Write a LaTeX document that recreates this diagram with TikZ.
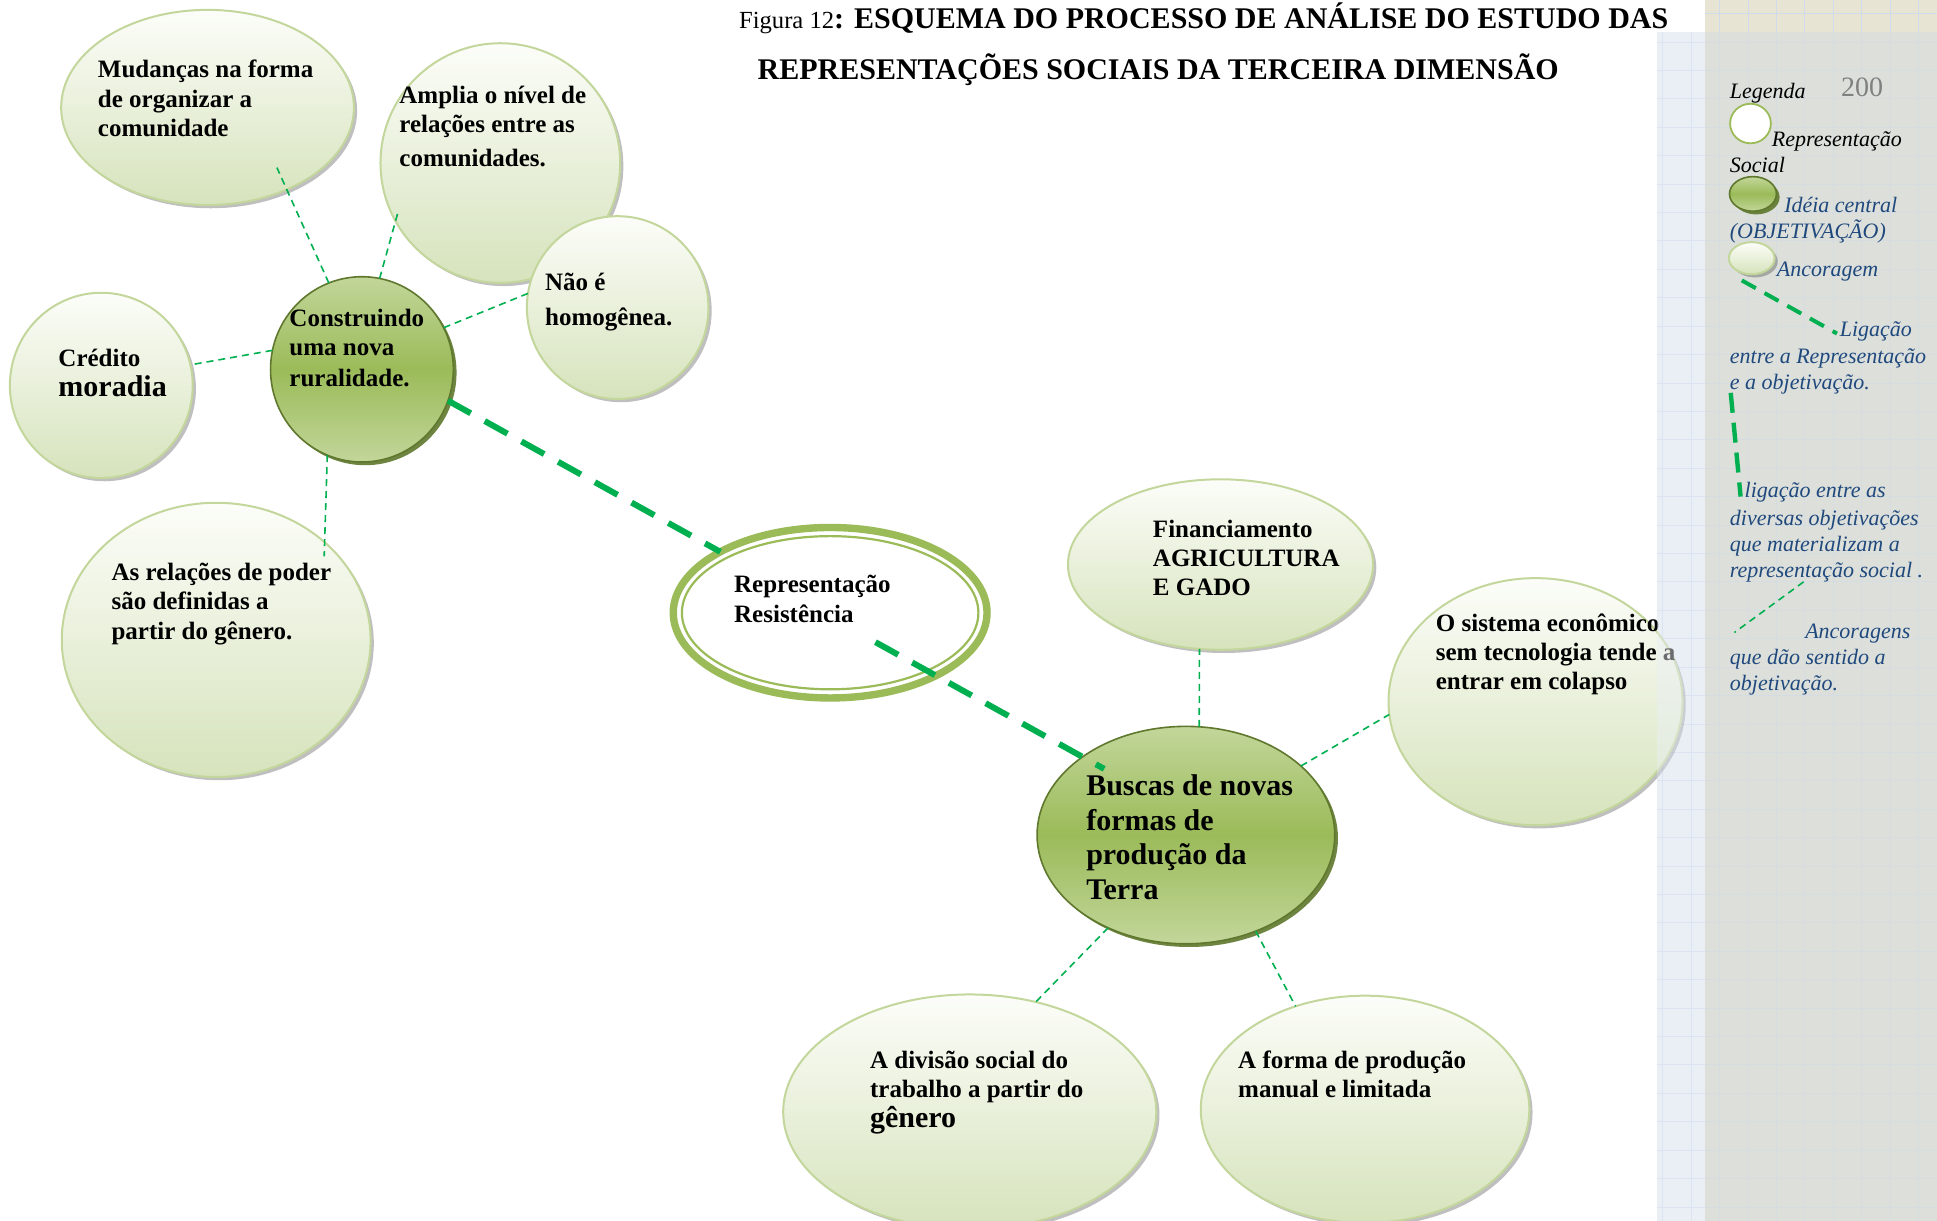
\documentclass[tikz,border=0pt]{standalone}
\usepackage{fontspec}
\setmainfont{Liberation Serif}
\usetikzlibrary{shapes.geometric,shadows,calc}
\newdimen\pxu \pxu=0.6177pt
\newcommand{\mylines}[1]{\begin{tabular}[t]{@{}l@{}}#1\end{tabular}}
\definecolor{ancB}{RGB}{195,214,155}
\definecolor{ancT}{RGB}{252,253,249}
\definecolor{ancBot}{RGB}{214,227,188}
\definecolor{objL}{RGB}{194,214,154}
\definecolor{objM}{RGB}{155,187,89}
\definecolor{objD}{RGB}{95,120,45}
\definecolor{lineG}{RGB}{0,176,80}
\definecolor{legB}{RGB}{31,73,125}
\definecolor{panBlue}{RGB}{234,239,246}
\definecolor{panGray}{RGB}{221,223,218}
\definecolor{panBeige}{RGB}{231,228,212}
\definecolor{gridB}{RGB}{208,220,236}
\tikzset{
  anc/.style={ellipse, draw=ancB, line width=1pt, top color=ancT, bottom color=ancBot,
    inner sep=0pt, outer sep=0pt,
    drop shadow={shadow xshift=1.6pt, shadow yshift=-1.6pt, fill=black, opacity=0.25}},
  obj/.style={ellipse, draw=objD, line width=0.8pt, top color=objL, bottom color=objL, middle color=objM,
    inner sep=0pt, outer sep=0pt,
    drop shadow={shadow xshift=1.6pt, shadow yshift=-1.6pt, fill=objD, opacity=0.9}},
  txt/.style={anchor=base west, inner sep=0pt, font=\bfseries\fontsize{12.5}{14.6}\selectfont},
  leg/.style={anchor=base west, inner sep=0pt, font=\itshape\fontsize{11}{13.1}\selectfont, text=legB},
  conn/.style={draw=lineG, line width=0.8pt, dash pattern=on 3.5pt off 2.5pt},
  mainlink/.style={draw=lineG, line width=3pt, dash pattern=on 13pt off 8pt},
  leglink/.style={draw=lineG, line width=2pt, dash pattern=on 8pt off 5pt},
}
\begin{document}
\begin{tikzpicture}[x=0.6177pt, y=-0.6177pt]
\useasboundingbox (0,0) rectangle (1568,988);
\fill[white] (0,0) rectangle (1568,988);
% right panel
\fill[panBlue] (1341,26) rectangle (1380,988);
\fill[panGray] (1380,26) rectangle (1568,988);
\fill[panBeige] (1380,0) rectangle (1568,26);
\foreach \gx in {1346,1369,...,1568} \draw[gridB, line width=0.4pt] (\gx,26) -- (\gx,988);
\foreach \gx in {1392,1415,...,1568} \draw[gridB, line width=0.4pt] (\gx,0) -- (\gx,26);
\foreach \gy in {34,57,...,988} \draw[gridB, line width=0.4pt] (1341,\gy) -- (1568,\gy);
\draw[gridB, line width=0.4pt] (1380,11) -- (1568,11);

% title
\node[anchor=base west, inner sep=0pt] (title1) at (598,23)
  {{\fontsize{12.3}{14}\selectfont Figura 12}{\bfseries\fontsize{15}{17}\selectfont : ESQUEMA DO PROCESSO DE ANÁLISE DO ESTUDO DAS}};
\node[anchor=base west, inner sep=0pt, font=\bfseries\fontsize{15}{17}\selectfont] (title2) at (613,64)
  {REPRESENTAÇÕES SOCIAIS DA TERCEIRA DIMENSÃO};

% ellipses
\node[anc, minimum width=237\pxu, minimum height=158\pxu] (mud) at (168,87) {};
\node[anc, minimum width=194\pxu, minimum height=194\pxu] (amp) at (405,132) {};
\node[anc, minimum width=147\pxu, minimum height=148\pxu] (nao) at (500,249) {};
\node[anc, minimum width=148\pxu, minimum height=150\pxu] (cred) at (82,312) {};
\node[anc, minimum width=250\pxu, minimum height=222\pxu] (rel) at (175,518) {};
\node[obj, minimum width=148\pxu, minimum height=150\pxu] (cons) at (293,299) {};
\node[ellipse, draw=objM, line width=3.7pt, fill=white, inner sep=0pt, outer sep=0pt,
  minimum width=254\pxu, minimum height=138\pxu] (rep) at (672,496) {};
\draw[objM, line width=1.1pt] (rep.center) ellipse [x radius=120\pxu, y radius=62\pxu];
\node[anc, minimum width=247\pxu, minimum height=138\pxu] (fin) at (988,457) {};
\node[anc, minimum width=238\pxu, minimum height=200\pxu] (sis) at (1243,568) {};
\node[obj, minimum width=241\pxu, minimum height=176\pxu] (bus) at (960,676) {};
\node[anc, minimum width=302\pxu, minimum height=190\pxu] (div) at (785,900) {};
\node[anc, minimum width=266\pxu, minimum height=184\pxu] (forma) at (1105,898) {};

% texts
\node[txt] (tmud) at (79,63) {\mylines{Mudanças na forma\\de organizar a\\comunidade}};
\node[txt] (tamp) at (323,84) {\mylines{Amplia o nível de\\relações entre as\\[2pt]comunidades.}};
\node[txt] (tnao) at (441,235) {\mylines{Não é\\[3pt]homogênea.}};
\node[txt] (tcred) at (47,297) {\mylines{Crédito\\[0pt]{\fontsize{15}{17}\selectfont moradia}}};
\node[txt] (tcons) at (234,264) {\mylines{Construindo\\uma nova\\[1pt]ruralidade.}};
\node[txt] (trel) at (90,470) {\mylines{As relações de poder\\são definidas a\\partir do gênero.}};
\node[txt] (trep) at (594,480) {\mylines{Representação\\Resistência}};
\node[txt] (tfin) at (933,435) {\mylines{Financiamento\\AGRICULTURA\\E GADO}};
\node[txt] (tsis) at (1162,511) {\mylines{O sistema econômico\\sem tecnologia tende a\\entrar em colapso}};
\node[txt, font=\bfseries\fontsize{15}{17.3}\selectfont] (tbus) at (879,644) {\mylines{Buscas de novas\\formas de\\produção da\\Terra}};
\node[txt] (tdiv) at (704,865) {\mylines{A divisão social do\\trabalho a partir do\\[0pt]{\fontsize{15}{17}\selectfont gênero}}};
\node[txt] (tforma) at (1002,865) {\mylines{A forma de produção\\manual e limitada}};

% connectors
\draw[conn, shorten >=-12pt] (cons.111) -- (mud.314);
\draw[conn, shorten >=-4pt] (cons.79.5) -- (amp.209);
\draw[conn] (cons.27.5) -- (nao.171);
\draw[conn] (cons.168) -- (cred.13);
\draw[conn, shorten >=-7pt] (cons.248) -- (rel.42.7);
\draw[mainlink] (cons.340) -- (rep.151.8);
\draw[mainlink] ($(rep.center)!0.45!(rep.-33)$) -- ($(bus.center)!0.82!(bus.141)$);
\draw[conn] (bus.83.5) -- (fin.256);
\draw[conn] (bus.31) -- (sis.185);
\draw[conn] (bus.230) -- (div.59);
\draw[conn] (bus.306.7) -- (forma.124);

% translucent panel over overlapping ellipse
\fill[panBlue, fill opacity=0.45] (1341,26) rectangle (1380,988);
\fill[panGray, fill opacity=0.45] (1380,26) rectangle (1568,988);

% legend
\node[leg, text=black] (lgtitle) at (1400,80) {Legenda};
\node[anchor=base west, inner sep=0pt, text=black!50, font=\fontsize{14}{16}\selectfont] (pg) at (1490,78) {200};
\node[ellipse, draw=objM, line width=0.9pt, fill=white, inner sep=0pt, outer sep=0pt,
  minimum width=33\pxu, minimum height=32\pxu] (lrs) at (1417,100) {};
\node[leg, text=black] (trs1) at (1434,119) {Representação};
\node[leg, text=black] (trs2) at (1400,140) {Social};
\node[obj, minimum width=38\pxu, minimum height=28\pxu] (lobj) at (1419,157) {};
\node[leg] (tobj1) at (1444,172) {Idéia central};
\node[leg] (tobj2) at (1400,193) {(OBJETIVAÇÃO)};
\node[anc, minimum width=37\pxu, minimum height=26\pxu] (lanc) at (1418,209) {};
\node[leg] (tanc) at (1438,224) {Ancoragem};
\coordinate (l1a) at (1410,227);
\coordinate (l1b) at (1487,270);
\draw[leglink] (l1a) -- (l1b);
\node[leg] (tl1) at (1489,272) {Ligação};
\node[leg] (tl2) at (1400,294) {\mylines{entre a Representação\\e a objetivação.}};
\coordinate (l2a) at (1401,318);
\coordinate (l2b) at (1409,402);
\draw[leglink, line width=2.2pt, dash pattern=on 10pt off 5pt] (l2a) -- (l2b);
\node[leg] (tl3) at (1412,403) {ligação entre as};
\node[leg] (tl4) at (1400,425) {\mylines{diversas objetivações\\que materializam a\\representação social .}};
\coordinate (l3a) at (1460,471);
\coordinate (l3b) at (1404,512);
\draw[conn] (l3a) -- (l3b);
\node[leg] (tl5) at (1461,517) {Ancoragens};
\node[leg] (tl6) at (1400,538) {\mylines{que dão sentido a\\objetivação.}};
\end{tikzpicture}
\end{document}
